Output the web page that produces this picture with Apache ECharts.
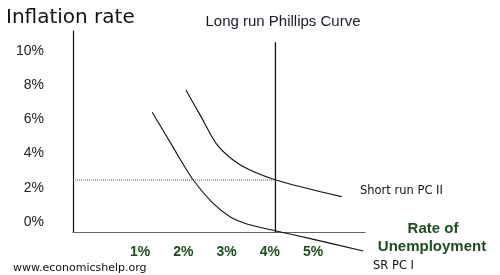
<!DOCTYPE html>
<html>
<head>
<meta charset="utf-8">
<script src="https://cdn.jsdelivr.net/npm/echarts@6/dist/echarts.min.js"></script>
<style>html,body{margin:0;padding:0;background:#fff}#c{width:500px;height:275px}</style>
</head>
<body>
<div id="c"></div>
<script>
// Tick labels
const xTicks = [1, 2, 3, 4, 5];
const yTicks = [0, 2, 4, 6, 8, 10];
// Short run Phillips curve I: [unemployment %, inflation %]
const srpc1X = [1.28, 1.77, 1.92, 2.23, 2.69, 3.08, 3.47, 4.12, 5.01, 6.16];
const srpc1Y = [6.41, 4.35, 3.70, 2.46, 1.10, 0.32, -0.10, -0.50, -1.00, -1.68];
// Short run Phillips curve II
const srpc2X = [2.06, 2.40, 2.77, 3.15, 3.54, 4.14, 4.85, 5.66];
const srpc2Y = [7.71, 6.20, 4.55, 3.63, 3.04, 2.46, 1.98, 1.49];
// Long run Phillips curve (vertical) and expected inflation line
const lrpcX = [4.13, 4.13];
const lrpcY = [-0.6, 10.5];
const dottedX = [-0.55, 4.13];
const dottedY = [2.46, 2.46];

const zip = (xs, ys) => xs.map((x, i) => [x, ys[i]]);
const green = '#1d4f1d';

const chart = echarts.init(document.getElementById('c'), null, {renderer: 'canvas'});
chart.setOption({
  animation: false,
  backgroundColor: '#fff',
  grid: {left: 73, top: 31, width: 292, height: 201.5, containLabel: false},
  xAxis: {
    type: 'value', min: -0.55, max: 6.2,
    axisLine: {show: true, onZero: false, lineStyle: {color: '#666', width: 1.2}},
    axisTick: {show: false},
    splitLine: {show: false},
    axisLabel: {
      customValues: xTicks, margin: 13,
      formatter: v => v + '%',
      color: green, fontFamily: 'Arial, "Liberation Sans"', fontWeight: 'bold', fontSize: 14
    }
  },
  yAxis: {
    type: 'value', min: -0.6, max: 11.15,
    axisLine: {show: true, onZero: false, lineStyle: {color: '#111', width: 1.2}},
    axisTick: {show: false},
    splitLine: {show: false},
    axisLabel: {
      customValues: yTicks, margin: 29,
      formatter: v => v + '%',
      color: '#222', fontFamily: 'Arial, "Liberation Sans"', fontSize: 14
    }
  },
  series: [
    {type: 'line', data: zip(srpc1X, srpc1Y), smooth: 0.3, showSymbol: false, clip: false,
     lineStyle: {color: '#111', width: 1.1}},
    {type: 'line', data: zip(srpc2X, srpc2Y), smooth: 0.3, showSymbol: false, clip: false,
     lineStyle: {color: '#111', width: 1.1}},
    {type: 'line', data: zip(lrpcX, lrpcY), showSymbol: false, clip: false,
     lineStyle: {color: '#111', width: 1.3}},
    {type: 'line', data: zip(dottedX, dottedY), showSymbol: false, clip: false,
     lineStyle: {color: '#555', width: 1, type: [1, 1]}}
  ],
  graphic: [
    {type: 'text', left: 6, top: 8, style: {text: 'Inflation rate', font: '20px "DejaVu Sans"', fill: '#111'}},
    {type: 'text', x: 283, y: 22, style: {text: 'Long run Phillips Curve', font: '15px Arial, "Liberation Sans"', fill: '#1a1a2a', align: 'center', verticalAlign: 'middle'}},
    {type: 'text', x: 360, y: 191, style: {text: 'Short run PC II', font: '11.5px "DejaVu Sans"', fill: '#111', verticalAlign: 'middle'}},
    {type: 'text', x: 373, y: 266, style: {text: 'SR PC I', font: '11.5px "DejaVu Sans"', fill: '#111', verticalAlign: 'middle'}},
    {type: 'text', x: 433, y: 229, style: {text: 'Rate of', font: 'bold 15px Arial, "Liberation Sans"', fill: green, align: 'center', verticalAlign: 'middle'}},
    {type: 'text', x: 432, y: 247, style: {text: 'Unemployment', font: 'bold 15px Arial, "Liberation Sans"', fill: green, align: 'center', verticalAlign: 'middle'}},
    {type: 'text', x: 13, y: 268, style: {text: 'www.economicshelp.org', font: '11px "DejaVu Sans"', fill: '#111', verticalAlign: 'middle'}}
  ]
});
</script>
</body>
</html>
